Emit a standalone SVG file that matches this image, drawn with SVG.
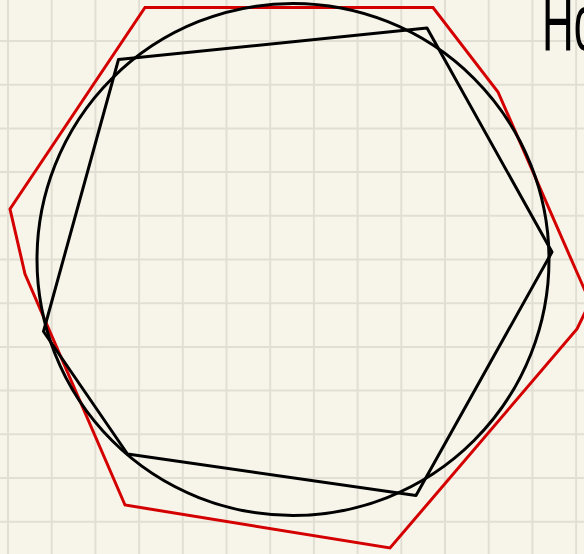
<svg xmlns="http://www.w3.org/2000/svg" width="584" height="554" viewBox="0 0 584 554">
<style>
.bg{fill:#f7f5ea}
.grid line{stroke:#e1dfd3;stroke-width:2}
.ink{fill:none;stroke:#000;stroke-width:3;stroke-linejoin:round;stroke-linecap:round}
.red{fill:none;stroke:#d40000;stroke-width:3;stroke-linejoin:miter}
.hand{font-family:"Liberation Sans","DejaVu Sans",sans-serif;font-size:80px;fill:#000}
</style>
<rect class="bg" x="0" y="0" width="584" height="554"/>
<g class="grid">
<line x1="8" y1="0" x2="8" y2="554"/>
<line x1="51.7" y1="0" x2="51.7" y2="554"/>
<line x1="95.4" y1="0" x2="95.4" y2="554"/>
<line x1="139.1" y1="0" x2="139.1" y2="554"/>
<line x1="182.8" y1="0" x2="182.8" y2="554"/>
<line x1="226.5" y1="0" x2="226.5" y2="554"/>
<line x1="270.2" y1="0" x2="270.2" y2="554"/>
<line x1="313.9" y1="0" x2="313.9" y2="554"/>
<line x1="357.6" y1="0" x2="357.6" y2="554"/>
<line x1="401.3" y1="0" x2="401.3" y2="554"/>
<line x1="445" y1="0" x2="445" y2="554"/>
<line x1="488.7" y1="0" x2="488.7" y2="554"/>
<line x1="532.4" y1="0" x2="532.4" y2="554"/>
<line x1="576.1" y1="0" x2="576.1" y2="554"/>
<line x1="0" y1="41" x2="584" y2="41"/>
<line x1="0" y1="84.7" x2="584" y2="84.7"/>
<line x1="0" y1="128.4" x2="584" y2="128.4"/>
<line x1="0" y1="172.1" x2="584" y2="172.1"/>
<line x1="0" y1="215.8" x2="584" y2="215.8"/>
<line x1="0" y1="259.5" x2="584" y2="259.5"/>
<line x1="0" y1="303.2" x2="584" y2="303.2"/>
<line x1="0" y1="346.9" x2="584" y2="346.9"/>
<line x1="0" y1="390.6" x2="584" y2="390.6"/>
<line x1="0" y1="434.3" x2="584" y2="434.3"/>
<line x1="0" y1="478" x2="584" y2="478"/>
<line x1="0" y1="521.7" x2="584" y2="521.7"/>
</g>
<g id="red-polygon">
<polygon class="red" points="145,7.5 433,7.5 498,92 575,268 590,302 577,329 390,548 125,505 25,274 10,209"/>
</g>
<g id="circle">
<circle class="ink" cx="293" cy="259.5" r="256"/>
</g>
<g id="black-polygon">
<polygon class="ink" points="118.5,59.5 427,28 552,252 416,495.5 127.5,454 43.5,331.5"/>
</g>
<g id="label">
<text class="hand" transform="translate(542,50) scale(0.55,1)">Ho</text>
</g>
</svg>
